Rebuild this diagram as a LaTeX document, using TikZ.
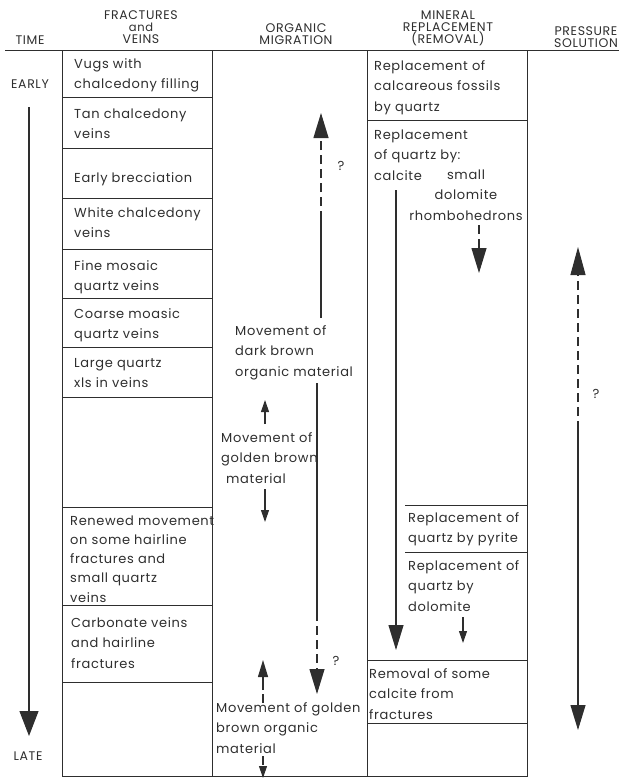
\documentclass[tikz,border=0pt]{standalone}
\usepackage{fontspec}
\setmainfont[LetterSpace=5]{Poppins}
\usetikzlibrary{arrows.meta}

\definecolor{ink}{HTML}{2E2E2E}

\tikzset{
  txt/.style={anchor=base west,inner sep=0pt,align=left,text=ink,
    font=\fontsize{13}{20.5}\selectfont},
  rows/.style={yshift={-(#1-1)*20.5pt}},
  hd/.style={anchor=base,inner sep=0pt,align=center,text=ink,
    font=\fontsize{12.5}{12}\selectfont},
  gridline/.style={draw=ink,line width=1pt},
  flow/.style={draw=ink,line width=1.1pt},
  broken/.style={flow,dash pattern=on 9pt off 5pt},
  bigtip/.style={-{Triangle[length=25pt,width=15pt]}},
  midtip/.style={-{Triangle[length=17pt,width=10pt]}},
  smalltip/.style={-{Triangle[length=12pt,width=8pt]}}
}

\begin{document}
\begin{tikzpicture}[x=1pt,y=-1pt]
\useasboundingbox (0,0) rectangle (619,779);

% headings (base = last line)
\node[hd] (time) at (30,44) {TIME};
\node[hd] (fracvein) at (141,43) {FRACTURES\\{\fontsize{11.5}{12}\selectfont and}\\VEINS};
\node[hd] (organic) at (296,44) {ORGANIC\\MIGRATION};
\node[hd] (mineral) at (448,43) {MINERAL\\REPLACEMENT\\(REMOVAL)};
\node[hd] (pressure) at (586,47) {PRESSURE\\SOLUTION};
\node[hd] (early) at (30,88) {EARLY};
\node[hd] (late) at (28,760) {LATE};

% table rules
\draw[gridline] (5,50) -- (619,50);
\draw[gridline] (62,50) -- (62,776) -- (527,776) -- (527,50);
\draw[gridline] (212,50) -- (212,776);
\draw[gridline] (367,50) -- (367,776);
\foreach \y in {97,148,198,249,298,347,397,507,605,682}
  \draw[gridline] (62,\y) -- (212,\y);
\foreach \y in {120,660,723}
  \draw[gridline] (367,\y) -- (527,\y);
\draw[gridline] (405,505) -- (527,505);
\draw[gridline] (405,552) -- (527,552);

% fractures and veins
\node[txt,rows=2] (vugs) at (74,68) {Vugs with\\chalcedony filling};
\node[txt,rows=2] (tan) at (74,118) {Tan chalcedony\\veins};
\node[txt] (brecc) at (74,182) {Early brecciation};
\node[txt,rows=2] (white) at (74,217) {White chalcedony\\veins};
\node[txt,rows=2] (fine) at (74,270) {Fine mosaic\\quartz veins};
\node[txt,rows=2] (coarse) at (74,318) {Coarse moasic\\quartz veins};
\node[txt,rows=2] (large) at (74,367) {Large quartz\\xls in veins};
\node[txt,font=\fontsize{13}{19.3}\selectfont,yshift=-77.2pt] (renewed) at (70,525)
  {Renewed movement\\on some hairline\\fractures and\\small quartz\\veins};
\node[txt,rows=3] (carbonate) at (71,627) {Carbonate veins\\and hairline\\fractures};

% organic migration
\node[txt,rows=3] (darkbrown) at (235,335) {Movement of\\dark brown\\organic material};
\node[txt,rows=3] (golden) at (221,442) {Movement of\\golden brown\\\hspace*{5pt}material};
\node[txt,rows=3] (golden2) at (216,712) {Movement of golden\\brown organic\\material};
\node[txt,anchor=base] (q1) at (341,170) {?};
\node[txt,anchor=base] (q2) at (336,665) {?};

% mineral replacement
\node[txt,rows=3] (fossils) at (374,70) {Replacement of\\calcareous fossils\\by quartz};
\node[txt,rows=3] (repquartz) at (374,139) {Replacement\\of quartz by:\\calcite};
\node[txt,rows=3,anchor=base,align=center] (rhombo) at (466,179) {small\\dolomite\\rhombohedrons};
\node[txt,rows=2] (pyrite) at (408,522) {Replacement of\\quartz by pyrite};
\node[txt,rows=3] (dolomite) at (408,570) {Replacement of\\quartz by\\dolomite};
\node[txt,rows=3] (removal) at (369,678) {Removal of some\\calcite from\\fractures};

% pressure solution
\node[txt,anchor=base] (q3) at (596,398) {?};

% arrow ends
\coordinate (t0) at (29,107);
\coordinate (t1) at (29,736);
\coordinate (d0) at (321,318);
\coordinate (d1) at (321,220);
\coordinate (d2) at (321,113);
\coordinate (e0) at (317,383);
\coordinate (e1) at (317,612);
\coordinate (e2) at (317,694);
\coordinate (g0) at (265,424);
\coordinate (g1) at (265,400);
\coordinate (g2) at (265,489);
\coordinate (g3) at (265,522);
\coordinate (h0) at (263,703);
\coordinate (h1) at (263,690);
\coordinate (h2) at (263,660);
\coordinate (h3) at (263,756);
\coordinate (h4) at (263,778);
\coordinate (c0) at (396,190);
\coordinate (c1) at (396,650);
\coordinate (r0) at (479,225);
\coordinate (r1) at (479,273);
\coordinate (m0) at (463,617);
\coordinate (m1) at (463,643);
\coordinate (p0) at (578,430);
\coordinate (p1) at (578,247);
\coordinate (p2) at (578,730);

% arrows
\draw[flow,-{Triangle[length=25pt,width=19pt]}] (t0) -- (t1);
\draw[flow] (d0) -- (d1);
\draw[broken,bigtip] (d1) -- (d2);
\draw[flow] (e0) -- (e1);
\draw[broken,bigtip] (e1) -- (e2);
\draw[flow,smalltip] (g0) -- (g1);
\draw[flow,smalltip] (g2) -- (g3);
\draw[broken] (h0) -- (h1);
\draw[flow,midtip] (h1) -- (h2);
\draw[broken,smalltip] (h3) -- (h4);
\draw[flow,bigtip] (c0) -- (c1);
\draw[broken,bigtip] (r0) -- (r1);
\draw[flow,smalltip] (m0) -- (m1);
\draw[broken,-{Triangle[length=28pt,width=15pt]}] (p0) -- (p1);
\draw[flow,bigtip] (p0) -- (p2);
\end{tikzpicture}
\end{document}
